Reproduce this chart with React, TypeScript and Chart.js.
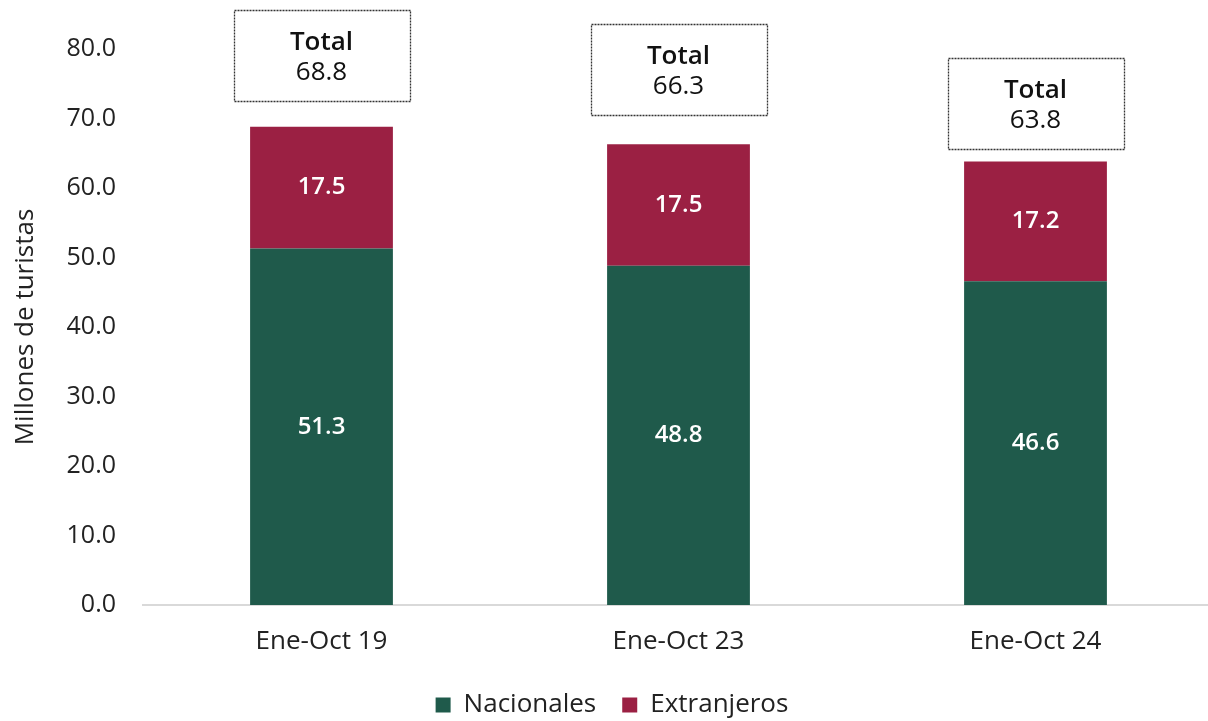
import React, { useEffect, useRef } from "react";
import { Chart, registerables } from "chart.js";

Chart.register(...registerables);

const categories = ["Ene-Oct 19", "Ene-Oct 23", "Ene-Oct 24"];
const nacionales = [51.3, 48.8, 46.6];
const extranjeros = [17.5, 17.5, 17.2];
const totals = [68.8, 66.3, 63.8];
const yTicks = [0, 10, 20, 30, 40, 50, 60, 70, 80];

const GREEN = "#1F5A4B";
const MAROON = "#9B2043";
const FONT = "'Open Sans', 'Noto Sans', sans-serif";

// vertical gap (px) between each bar top and its "Total" box
const boxLift = [26, 29, 13];

const valueLabels = {
  id: "valueLabels",
  afterDatasetsDraw(chart: any) {
    const ctx = chart.ctx;
    ctx.save();
    ctx.font = `600 24px ${FONT}`;
    ctx.fillStyle = "#ffffff";
    ctx.textAlign = "center";
    ctx.textBaseline = "middle";
    chart.data.datasets.forEach((ds: any, di: number) => {
      const meta = chart.getDatasetMeta(di);
      meta.data.forEach((bar: any, i: number) => {
        const cy = (bar.y + bar.base) / 2;
        ctx.fillText(ds.data[i].toFixed(1), bar.x, cy);
      });
    });
    ctx.restore();
  },
};

const totalBoxes = {
  id: "totalBoxes",
  afterDatasetsDraw(chart: any) {
    const ctx = chart.ctx;
    const xs = chart.scales.x;
    const ys = chart.scales.y;
    ctx.save();
    totals.forEach((t, i) => {
      const cx = xs.getPixelForValue(i);
      const top = ys.getPixelForValue(t);
      const w = 176;
      const h = 91;
      const bottom = top - boxLift[i];
      const bx = Math.round(cx - w / 2) + 0.5;
      const by = Math.round(bottom - h) + 0.5;
      ctx.setLineDash([2, 1]);
      ctx.lineWidth = 1.3;
      ctx.strokeStyle = "#333333";
      ctx.strokeRect(bx, by, w, h);
      ctx.setLineDash([]);
      ctx.fillStyle = "#111111";
      ctx.textAlign = "center";
      ctx.textBaseline = "middle";
      ctx.font = `600 26px ${FONT}`;
      ctx.fillText("Total", cx, by + 32);
      ctx.font = `500 26px ${FONT}`;
      ctx.fillText(t.toFixed(1), cx, by + 62);
    });
    ctx.restore();
  },
};

export default function App() {
  const ref = useRef<HTMLCanvasElement | null>(null);

  useEffect(() => {
    if (!ref.current) return;
    const chart = new Chart(ref.current, {
      type: "bar",
      data: {
        labels: categories,
        datasets: [
          {
            label: "Nacionales",
            data: nacionales,
            backgroundColor: GREEN,
            borderWidth: 0,
            barPercentage: 0.4,
            categoryPercentage: 1,
          },
          {
            label: "Extranjeros",
            data: extranjeros,
            backgroundColor: MAROON,
            borderWidth: 0,
            barPercentage: 0.4,
            categoryPercentage: 1,
          },
        ],
      },
      options: {
        responsive: false,
        maintainAspectRatio: false,
        animation: false,
        layout: { padding: { left: 10, top: 49, right: 16, bottom: -7 } },
        plugins: {
          legend: {
            position: "bottom",
            labels: {
              boxWidth: 15,
              boxHeight: 15,
              padding: 26,
              color: "#222222",
              font: { family: FONT, size: 26 },
            },
          },
          tooltip: { enabled: false },
        },
        scales: {
          x: {
            stacked: true,
            grid: { display: false, drawTicks: false },
            border: { display: true, color: "#d9d9d9", width: 2 },
            ticks: {
              color: "#222222",
              padding: 21,
              font: { family: FONT, size: 26 },
            },
            afterFit: (s: any) => {
              s.height = 61;
            },
          },
          y: {
            stacked: true,
            min: 0,
            max: 80,
            grid: { display: false, drawTicks: false },
            border: { display: false },
            afterBuildTicks: (s: any) => {
              s.ticks = yTicks.map((v) => ({ value: v }));
            },
            ticks: {
              color: "#222222",
              padding: 27,
              font: { family: FONT, size: 25 },
              callback: (v: any) => Number(v).toFixed(1),
            },
            title: {
              display: true,
              text: "Millones de turistas",
              color: "#222222",
              padding: 0,
              font: { family: FONT, size: 26 },
            },
            afterFit: (s: any) => {
              s.width = 133;
            },
          },
        },
      },
      plugins: [valueLabels, totalBoxes],
    });
    return () => chart.destroy();
  }, []);

  return (
    <div style={{ position: "fixed", left: 0, top: 0, width: 1230, height: 721, background: "#fff" }}>
      <canvas ref={ref} width={1230} height={721} style={{ display: "block" }} />
    </div>
  );
}
